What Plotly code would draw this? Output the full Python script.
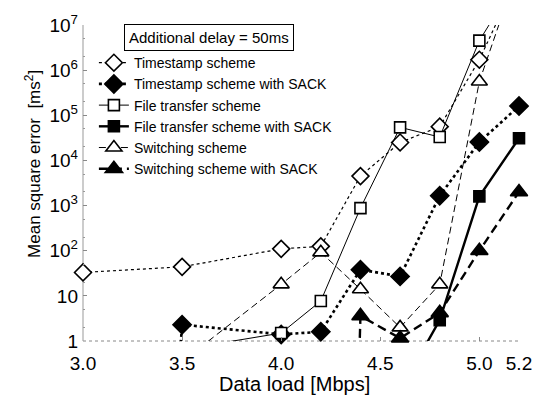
import plotly.graph_objects as go

# Data load [Mbps]
data_load = [3.0, 3.5, 4.0, 4.2, 4.4, 4.6, 4.8, 5.0, 5.2]

# Mean square error [ms^2]  (None = not measured; 1e-30 ~ zero, which the
# original log plot draws as a drop straight down to the axis)
timestamp = [33, 44, 110, 125, 4500, 25000, 56000, 1.7e6, 1.3e8]
timestamp_sack = [1e-30, 2.3, 1.4, 1.6, 38, 27, 1650, 25500, 1.6e5]
file_transfer = [None, 0.65, 1.5, 7.7, 880, 54000, 33000, 4.5e6, 1.2e8]
file_transfer_sack = [None, None, None, None, None, 0.08, 2.9, 1600, 31000]
switching = [None, 0.35, 18, 92, 14, 2.0, 18, 5.6e5, 2e8]
switching_sack = [None, None, None, 1e-30, 3.6, 1.15, 4.2, 100, 2000]

series_names = [
    "Timestamp scheme",
    "Timestamp scheme with SACK",
    "File transfer scheme",
    "File transfer scheme with SACK",
    "Switching scheme",
    "Switching scheme with SACK",
]

x_tick_vals = [3.0, 3.5, 4.0, 4.5, 5.0, 5.2]
x_tick_text = ["3.0", "3.5", "4.0", "4.5", "5.0", "5.2"]
y_tick_vals = [1, 10, 1e2, 1e3, 1e4, 1e5, 1e6, 1e7]
y_tick_text = ["1", "10", "10<sup>2</sup>", "10<sup>3</sup>", "10<sup>4</sup>",
               "10<sup>5</sup>", "10<sup>6</sup>", "10<sup>7</sup>"]

FONT = "Liberation Sans, Arial, Helvetica, sans-serif"

styles = [
    # (values, symbol, size, fill, line width, dash)
    (timestamp, "diamond", 13, "white", 1.2, "dot"),
    (timestamp_sack, "diamond", 14, "black", 2.6, "dot"),
    (file_transfer, "square", 11, "white", 1.0, "solid"),
    (file_transfer_sack, "square", 11, "black", 2.4, "solid"),
    (switching, "triangle-up", 14, "white", 1.0, "7px,4px"),
    (switching_sack, "triangle-up", 15, "black", 2.4, "9px,5px"),
]

fig = go.Figure()
for name, (vals, sym, size, fill, lw, dash) in zip(series_names, styles):
    fig.add_trace(go.Scatter(
        x=data_load, y=vals, name=name, mode="lines+markers",
        connectgaps=False, cliponaxis=False,
        line=dict(color="black", width=lw, dash=dash),
        marker=dict(symbol=sym, size=size, color=fill,
                    line=dict(color="black", width=1.6)),
    ))

fig.update_layout(
    width=544, height=400,
    margin=dict(l=83, r=25, t=17, b=59),
    paper_bgcolor="white", plot_bgcolor="white",
    font=dict(family=FONT, color="black"),
    showlegend=True,
    legend=dict(x=0.025, y=0.93, xanchor="left", yanchor="top",
                bgcolor="rgba(0,0,0,0)", font=dict(size=14, family=FONT),
                tracegroupgap=0),
    xaxis=dict(range=[3.0, 5.2], tickvals=x_tick_vals, ticktext=x_tick_text,
               ticks="inside", ticklen=4, tickcolor="#888",
               ticklabelstandoff=9,
               showgrid=False, zeroline=False, showline=False,
               tickfont=dict(size=19, family=FONT)),
    yaxis=dict(type="log", range=[0, 7], tickvals=y_tick_vals, ticktext=y_tick_text,
               ticks="inside", ticklen=4, tickcolor="#888",
               ticklabelstandoff=4,
               minor=dict(ticks="inside", ticklen=2, tickcolor="#999", dtick="D2", showgrid=False),
               showgrid=False, zeroline=False, showline=False,
               tickfont=dict(size=19, family=FONT)),
    shapes=[
        dict(type="line", xref="paper", yref="paper", x0=0, x1=1, y0=0, y1=0,
             line=dict(color="#888", width=1, dash="dot"), layer="below"),
        dict(type="line", xref="paper", yref="paper", x0=0, x1=0, y0=0, y1=1,
             line=dict(color="#999", width=1), layer="below"),
    ],
    annotations=[
        dict(text="Additional delay = 50ms", xref="paper", yref="paper",
             x=0.289, y=0.96, xanchor="center", yanchor="middle", showarrow=False,
             font=dict(size=15, family=FONT), bordercolor="black", borderwidth=1,
             borderpad=4, bgcolor="white"),
        dict(text="Mean square error  [ms<sup>2</sup>]", xref="paper", yref="paper",
             x=-0.115, y=0.56, xanchor="center", yanchor="middle", showarrow=False,
             textangle=-90, font=dict(size=17, family=FONT)),
        dict(text="Data load [Mbps]", xref="paper", yref="paper",
             x=0.486, y=-0.135, xanchor="center", yanchor="middle", showarrow=False,
             font=dict(size=20, family=FONT)),
    ],
)

fig.write_html("out.html")
